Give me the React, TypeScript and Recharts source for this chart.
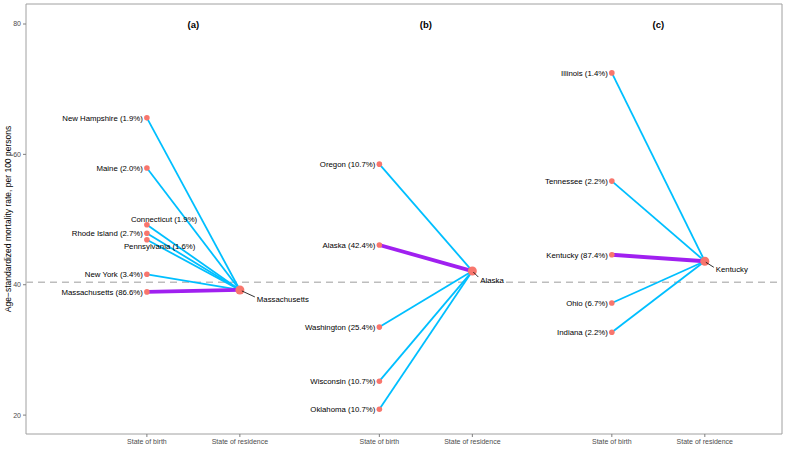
import { ComposedChart, Line, Scatter, XAxis, YAxis, ReferenceLine, ReferenceArea } from 'recharts';

// panel layout (x positions on a numeric axis)
const panelTitles = ['(a)', '(b)', '(c)'];
const birthX = [1, 3.5, 6];
const residenceX = [2, 4.5, 7];
const xTicks = [1, 2, 3.5, 4.5, 6, 7];
const xTickLabels = ['State of birth', 'State of residence', 'State of birth', 'State of residence', 'State of birth', 'State of residence'];
const yTicks = [20, 40, 60, 80];

const residenceStates = ['Massachusetts', 'Alaska', 'Kentucky'];
const residenceRates = [39.2, 42.1, 43.6];
const nationalRate = 40.4;

// (a) Massachusetts residents
const statesA = ['New Hampshire', 'Maine', 'Connecticut', 'Rhode Island', 'Pennsylvania', 'New York', 'Massachusetts'];
const sharesA = [1.9, 2.0, 1.9, 2.7, 1.6, 3.4, 86.6];
const ratesA = [65.6, 57.9, 49.2, 47.9, 46.9, 41.6, 38.9];

// (b) Alaska residents
const statesB = ['Oregon', 'Alaska', 'Washington', 'Wisconsin', 'Oklahoma'];
const sharesB = [10.7, 42.4, 25.4, 10.7, 10.7];
const ratesB = [58.5, 46.1, 33.5, 25.2, 20.9];

// (c) Kentucky residents
const statesC = ['Illinois', 'Tennessee', 'Kentucky', 'Ohio', 'Indiana'];
const sharesC = [1.4, 2.2, 87.4, 6.7, 2.2];
const ratesC = [72.5, 55.9, 44.6, 37.2, 32.7];

const panels = [
  { states: statesA, shares: sharesA, rates: ratesA },
  { states: statesB, shares: sharesB, rates: ratesB },
  { states: statesC, shares: sharesC, rates: ratesC },
];

const X_DOMAIN = [-0.3, 7.83];
const Y_DOMAIN = [17.1, 83.07];
const FONT = '"Liberation Sans", Arial, Helvetica, sans-serif';
const CYAN = '#00BFFF';
const PURPLE = '#A020F0';
const DOT = '#F8766D';

// labels nudged away from crowded spots (like ggrepel did)
const birthLabelNudge: Record<string, { dx: number; dy: number; anchor: string }> = {
  'Connecticut': { dx: -16, dy: -3, anchor: 'start' },
  'Pennsylvania': { dx: -23, dy: 9, anchor: 'start' },
};
const residenceLabelNudge = [
  { dx: 17, dy: 12, sx: 2, sy: 1, ex: 15, ey: 7 },
  { dx: 8, dy: 12, sx: 1, sy: 1, ex: 6, ey: 6 },
  { dx: 11, dy: 11, sx: 1, sy: 1, ex: 9, ey: 6 },
];

const segments: { key: string; own: boolean; data: { x: number; y: number }[] }[] = [];
const birthPoints: { x: number; y: number; name: string; label: string }[] = [];
panels.forEach((p, pi) => {
  p.states.forEach((s, i) => {
    segments.push({
      key: `${pi}-${s}`,
      own: s === residenceStates[pi],
      data: [{ x: birthX[pi], y: p.rates[i] }, { x: residenceX[pi], y: residenceRates[pi] }],
    });
    birthPoints.push({ x: birthX[pi], y: p.rates[i], name: s, label: `${s} (${p.shares[i].toFixed(1)}%)` });
  });
});
const residencePoints = residenceStates.map((s, i) => ({ x: residenceX[i], y: residenceRates[i], name: s, idx: i }));
const titlePoints = panelTitles.map((t, i) => ({ x: (birthX[i] + residenceX[i]) / 2, y: 79.9, label: t }));

const BirthDot = (props: any) => {
  const { cx, cy, payload } = props;
  const n = birthLabelNudge[payload.name];
  return (
    <g>
      <circle cx={cx} cy={cy} r={2.8} fill={DOT} />
      <text
        x={cx + (n ? n.dx : -4)}
        y={cy + (n ? n.dy : 3)}
        textAnchor={n ? n.anchor : 'end'}
        fontSize={7.8}
        fontFamily={FONT}
        fill="#000"
      >
        {payload.label}
      </text>
    </g>
  );
};

const ResidenceDot = (props: any) => {
  const { cx, cy, payload } = props;
  const n = residenceLabelNudge[payload.idx];
  return (
    <g>
      <circle cx={cx} cy={cy} r={4.5} fill={DOT} />
      <line x1={cx + n.sx} y1={cy + n.sy} x2={cx + n.ex} y2={cy + n.ey} stroke="#000" strokeWidth={0.8} />
      <text x={cx + n.dx} y={cy + n.dy} fontSize={7.8} fontFamily={FONT} fill="#000">
        {payload.name}
      </text>
    </g>
  );
};

const PanelTitle = (props: any) => {
  const { cx, cy, payload } = props;
  return (
    <text x={cx} y={cy + 3.5} textAnchor="middle" fontSize={9.5} fontWeight="bold" fontFamily={FONT} fill="#000">
      {payload.label}
    </text>
  );
};

const YTitle = (props: any) => {
  const vb = props.viewBox || {};
  const cy = (vb.y ?? 4) + (vb.height ?? 430) / 2;
  return (
    <text
      x={11}
      y={cy}
      transform={`rotate(-90, 11, ${cy})`}
      textAnchor="middle"
      fontSize={8.5}
      fontFamily={FONT}
      fill="#000"
    >
      Age{'\u2212'}standardized mortality rate, per 100 persons
    </text>
  );
};

export default function App() {
  return (
    <div style={{ position: 'absolute', left: 0, top: 0, width: 787, height: 450, background: '#fff' }}>
      <ComposedChart width={787} height={450} margin={{ top: 4, right: 5, bottom: 0, left: 0 }}>
        <XAxis
          type="number"
          dataKey="x"
          domain={X_DOMAIN}
          ticks={xTicks}
          allowDataOverflow
          height={16}
          tickSize={3}
          tickMargin={2}
          axisLine={false}
          tickLine={{ stroke: '#7f7f7f' }}
          tick={{ fontSize: 7, fill: '#4d4d4d', fontFamily: FONT }}
          tickFormatter={(v: number) => xTickLabels[xTicks.indexOf(v)] ?? ''}
        />
        <YAxis
          type="number"
          dataKey="y"
          domain={Y_DOMAIN}
          ticks={yTicks}
          allowDataOverflow
          width={26}
          tickSize={3}
          tickMargin={2}
          axisLine={false}
          tickLine={{ stroke: '#7f7f7f' }}
          tick={{ fontSize: 7, fill: '#4d4d4d', fontFamily: FONT }}
          label={{ content: YTitle }}
        />
        <ReferenceArea
          x1={X_DOMAIN[0]}
          x2={X_DOMAIN[1]}
          y1={Y_DOMAIN[0]}
          y2={Y_DOMAIN[1]}
          fill="none"
          stroke="#a0a0a0"
          strokeWidth={1}
        />
        <ReferenceLine y={nationalRate} stroke="#bdbdbd" strokeWidth={1.5} strokeDasharray="7 5" />
        {segments.filter(s => !s.own).map(s => (
          <Line
            key={s.key}
            data={s.data}
            dataKey="y"
            type="linear"
            stroke={CYAN}
            strokeWidth={1.8}
            dot={false}
            activeDot={false}
            isAnimationActive={false}
          />
        ))}
        {segments.filter(s => s.own).map(s => (
          <Line
            key={s.key}
            data={s.data}
            dataKey="y"
            type="linear"
            stroke={PURPLE}
            strokeWidth={3.8}
            dot={false}
            activeDot={false}
            isAnimationActive={false}
          />
        ))}
        <Scatter data={birthPoints} dataKey="y" shape={BirthDot} isAnimationActive={false} />
        <Scatter data={residencePoints} dataKey="y" shape={ResidenceDot} isAnimationActive={false} />
        <Scatter data={titlePoints} dataKey="y" shape={PanelTitle} isAnimationActive={false} />
      </ComposedChart>
    </div>
  );
}
